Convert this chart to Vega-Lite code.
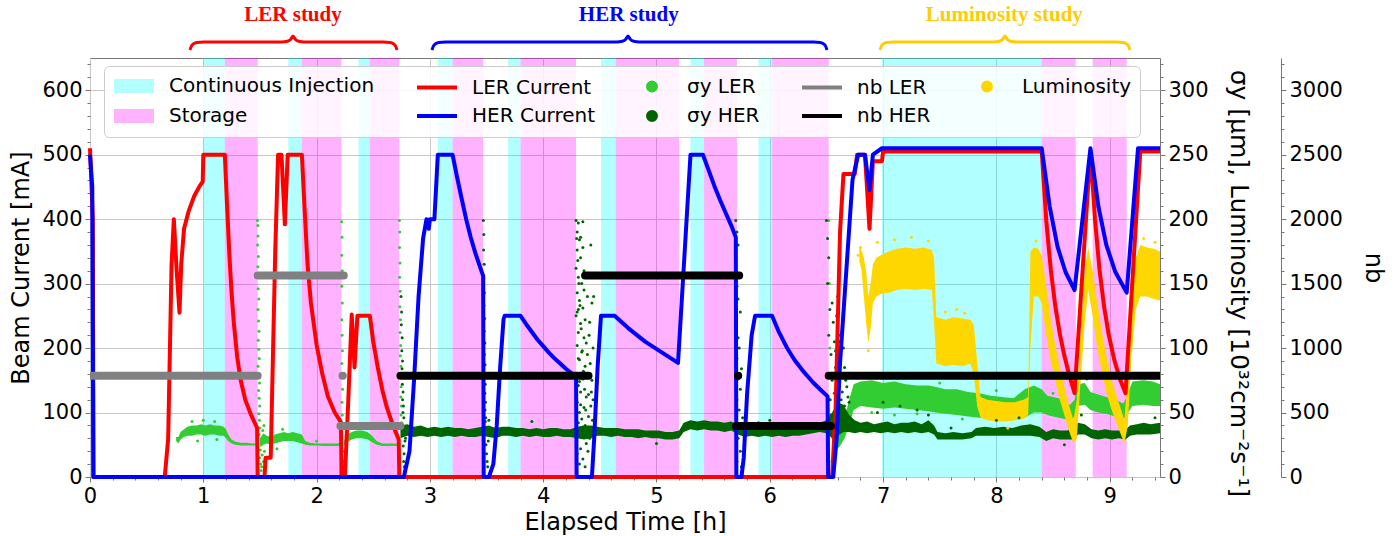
{
"$schema": "https://vega.github.io/schema/vega-lite/v6.json",
"width": 1070, "height": 419,
"autosize": {"type": "none"},
"padding": {"left": 90, "top": 58, "right": 240, "bottom": 59},
"background": "white",
"config": {
  "view": {"stroke": "#777", "strokeWidth": 1},
  "axis": {"labelFont": "DejaVu Sans", "labelFontSize": 21, "labelColor": "#000", "titleFont": "DejaVu Sans", "titleFontSize": 24, "titleFontWeight": "normal", "titleColor": "#000", "tickColor": "#777", "domainColor": "#777", "gridColor": "#c6c6c6", "gridWidth": 1, "labelOverlap": false, "labelFlush": false},
  "legend": {"labelFont": "DejaVu Sans", "labelFontSize": 20, "labelColor": "#000"}
},
"datasets": {
"bands": [
{"series":"Continuous Injection","start":1.00,"end":1.19},{"series":"Storage","start":1.19,"end":1.48},
{"series":"Continuous Injection","start":1.75,"end":1.87},{"series":"Storage","start":1.87,"end":2.22},
{"series":"Continuous Injection","start":2.37,"end":2.47},{"series":"Storage","start":2.47,"end":2.73},
{"series":"Continuous Injection","start":3.07,"end":3.20},{"series":"Storage","start":3.20,"end":3.47},
{"series":"Continuous Injection","start":3.69,"end":3.80},{"series":"Storage","start":3.80,"end":4.29},
{"series":"Continuous Injection","start":4.51,"end":4.64},{"series":"Storage","start":4.64,"end":5.20},
{"series":"Continuous Injection","start":5.30,"end":5.42},{"series":"Storage","start":5.42,"end":5.71},
{"series":"Continuous Injection","start":5.90,"end":6.02},{"series":"Storage","start":6.02,"end":6.52},
{"series":"Continuous Injection","start":6.99,"end":8.40},{"series":"Storage","start":8.40,"end":8.70},
{"series":"Storage","start":8.85,"end":9.15}
],
"cur": [
{"series":"LER Current","t":0,"v":510},{"series":"LER Current","t":0.025,"v":400},{"series":"LER Current","t":0.03,"v":0},{"series":"LER Current","t":0.66,"v":0},{"series":"LER Current","t":0.69,"v":60},{"series":"LER Current","t":0.72,"v":330},{"series":"LER Current","t":0.74,"v":400},{"series":"LER Current","t":0.765,"v":320},{"series":"LER Current","t":0.79,"v":255},{"series":"LER Current","t":0.805,"v":330},{"series":"LER Current","t":0.83,"v":385},{"series":"LER Current","t":0.87,"v":412},{"series":"LER Current","t":0.92,"v":436},{"series":"LER Current","t":0.97,"v":452},{"series":"LER Current","t":0.995,"v":458},{"series":"LER Current","t":1.0,"v":500},{"series":"LER Current","t":1.19,"v":500},{"series":"LER Current","t":1.21,"v":420},{"series":"LER Current","t":1.23,"v":345},{"series":"LER Current","t":1.25,"v":285},{"series":"LER Current","t":1.27,"v":238},{"series":"LER Current","t":1.30,"v":185},{"series":"LER Current","t":1.33,"v":150},{"series":"LER Current","t":1.37,"v":120},{"series":"LER Current","t":1.42,"v":97},{"series":"LER Current","t":1.475,"v":76},{"series":"LER Current","t":1.48,"v":0},{"series":"LER Current","t":1.54,"v":0},{"series":"LER Current","t":1.55,"v":30},{"series":"LER Current","t":1.595,"v":30},{"series":"LER Current","t":1.61,"v":150},{"series":"LER Current","t":1.635,"v":350},{"series":"LER Current","t":1.66,"v":500},{"series":"LER Current","t":1.69,"v":500},{"series":"LER Current","t":1.72,"v":392},{"series":"LER Current","t":1.745,"v":500},{"series":"LER Current","t":1.87,"v":500},{"series":"LER Current","t":1.89,"v":430},{"series":"LER Current","t":1.92,"v":330},{"series":"LER Current","t":1.95,"v":270},{"series":"LER Current","t":2.0,"v":205},{"series":"LER Current","t":2.05,"v":160},{"series":"LER Current","t":2.1,"v":125},{"series":"LER Current","t":2.16,"v":100},{"series":"LER Current","t":2.215,"v":85},{"series":"LER Current","t":2.22,"v":0},{"series":"LER Current","t":2.25,"v":0},{"series":"LER Current","t":2.28,"v":120},{"series":"LER Current","t":2.31,"v":252},{"series":"LER Current","t":2.335,"v":170},{"series":"LER Current","t":2.36,"v":250},{"series":"LER Current","t":2.47,"v":250},{"series":"LER Current","t":2.50,"v":210},{"series":"LER Current","t":2.54,"v":170},{"series":"LER Current","t":2.58,"v":135},{"series":"LER Current","t":2.62,"v":108},{"series":"LER Current","t":2.67,"v":82},{"series":"LER Current","t":2.725,"v":58},{"series":"LER Current","t":2.73,"v":0},{"series":"LER Current","t":6.55,"v":0},{"series":"LER Current","t":6.58,"v":100},{"series":"LER Current","t":6.62,"v":380},{"series":"LER Current","t":6.65,"v":470},{"series":"LER Current","t":6.75,"v":470},{"series":"LER Current","t":6.77,"v":500},{"series":"LER Current","t":6.84,"v":500},{"series":"LER Current","t":6.88,"v":385},{"series":"LER Current","t":6.91,"v":490},{"series":"LER Current","t":6.99,"v":490},{"series":"LER Current","t":7.0,"v":505},{"series":"LER Current","t":8.40,"v":505},{"series":"LER Current","t":8.44,"v":398},{"series":"LER Current","t":8.48,"v":322},{"series":"LER Current","t":8.52,"v":265},{"series":"LER Current","t":8.56,"v":222},{"series":"LER Current","t":8.60,"v":188},{"series":"LER Current","t":8.64,"v":160},{"series":"LER Current","t":8.69,"v":130},{"series":"LER Current","t":8.83,"v":505},{"series":"LER Current","t":8.87,"v":400},{"series":"LER Current","t":8.91,"v":322},{"series":"LER Current","t":8.95,"v":265},{"series":"LER Current","t":8.99,"v":222},{"series":"LER Current","t":9.04,"v":182},{"series":"LER Current","t":9.09,"v":152},{"series":"LER Current","t":9.14,"v":130},{"series":"LER Current","t":9.27,"v":505},{"series":"LER Current","t":9.444,"v":505},
{"series":"HER Current","t":0,"v":500},{"series":"HER Current","t":0.02,"v":450},{"series":"HER Current","t":0.03,"v":0},{"series":"HER Current","t":2.77,"v":0},{"series":"HER Current","t":2.82,"v":40},{"series":"HER Current","t":2.86,"v":150},{"series":"HER Current","t":2.90,"v":280},{"series":"HER Current","t":2.94,"v":370},{"series":"HER Current","t":2.97,"v":400},{"series":"HER Current","t":2.99,"v":385},{"series":"HER Current","t":3.0,"v":400},{"series":"HER Current","t":3.04,"v":400},{"series":"HER Current","t":3.07,"v":500},{"series":"HER Current","t":3.20,"v":500},{"series":"HER Current","t":3.24,"v":465},{"series":"HER Current","t":3.28,"v":432},{"series":"HER Current","t":3.32,"v":400},{"series":"HER Current","t":3.36,"v":372},{"series":"HER Current","t":3.40,"v":348},{"series":"HER Current","t":3.44,"v":327},{"series":"HER Current","t":3.47,"v":312},{"series":"HER Current","t":3.475,"v":0},{"series":"HER Current","t":3.52,"v":0},{"series":"HER Current","t":3.56,"v":20},{"series":"HER Current","t":3.59,"v":80},{"series":"HER Current","t":3.62,"v":170},{"series":"HER Current","t":3.65,"v":245},{"series":"HER Current","t":3.66,"v":250},{"series":"HER Current","t":3.80,"v":250},{"series":"HER Current","t":3.85,"v":237},{"series":"HER Current","t":3.90,"v":225},{"series":"HER Current","t":3.95,"v":213},{"series":"HER Current","t":4.00,"v":203},{"series":"HER Current","t":4.05,"v":193},{"series":"HER Current","t":4.10,"v":184},{"series":"HER Current","t":4.15,"v":176},{"series":"HER Current","t":4.20,"v":168},{"series":"HER Current","t":4.25,"v":161},{"series":"HER Current","t":4.29,"v":156},{"series":"HER Current","t":4.295,"v":0},{"series":"HER Current","t":4.43,"v":0},{"series":"HER Current","t":4.45,"v":60},{"series":"HER Current","t":4.48,"v":170},{"series":"HER Current","t":4.51,"v":250},{"series":"HER Current","t":4.63,"v":250},{"series":"HER Current","t":4.75,"v":231},{"series":"HER Current","t":4.90,"v":210},{"series":"HER Current","t":5.05,"v":193},{"series":"HER Current","t":5.19,"v":177},{"series":"HER Current","t":5.30,"v":500},{"series":"HER Current","t":5.41,"v":500},{"series":"HER Current","t":5.46,"v":476},{"series":"HER Current","t":5.51,"v":452},{"series":"HER Current","t":5.56,"v":430},{"series":"HER Current","t":5.61,"v":410},{"series":"HER Current","t":5.66,"v":390},{"series":"HER Current","t":5.70,"v":372},{"series":"HER Current","t":5.705,"v":0},{"series":"HER Current","t":5.75,"v":0},{"series":"HER Current","t":5.77,"v":30},{"series":"HER Current","t":5.80,"v":130},{"series":"HER Current","t":5.84,"v":220},{"series":"HER Current","t":5.87,"v":250},{"series":"HER Current","t":6.02,"v":250},{"series":"HER Current","t":6.08,"v":225},{"series":"HER Current","t":6.15,"v":201},{"series":"HER Current","t":6.22,"v":181},{"series":"HER Current","t":6.30,"v":163},{"series":"HER Current","t":6.38,"v":147},{"series":"HER Current","t":6.45,"v":135},{"series":"HER Current","t":6.51,"v":125},{"series":"HER Current","t":6.515,"v":0},{"series":"HER Current","t":6.56,"v":0},{"series":"HER Current","t":6.59,"v":60},{"series":"HER Current","t":6.62,"v":177},{"series":"HER Current","t":6.68,"v":332},{"series":"HER Current","t":6.73,"v":461},{"series":"HER Current","t":6.78,"v":500},{"series":"HER Current","t":6.84,"v":500},{"series":"HER Current","t":6.88,"v":445},{"series":"HER Current","t":6.91,"v":500},{"series":"HER Current","t":6.99,"v":510},{"series":"HER Current","t":8.40,"v":510},{"series":"HER Current","t":8.47,"v":420},{"series":"HER Current","t":8.54,"v":357},{"series":"HER Current","t":8.61,"v":318},{"series":"HER Current","t":8.69,"v":290},{"series":"HER Current","t":8.83,"v":510},{"series":"HER Current","t":8.90,"v":420},{"series":"HER Current","t":8.97,"v":360},{"series":"HER Current","t":9.05,"v":318},{"series":"HER Current","t":9.15,"v":286},{"series":"HER Current","t":9.25,"v":510},{"series":"HER Current","t":9.444,"v":510}
],
"nbd": [
{"series":"nb LER","seg":"a","t":0,"v":785},{"series":"nb LER","seg":"a","t":1.48,"v":785},
{"series":"nb LER","seg":"b","t":1.48,"v":1562},{"series":"nb LER","seg":"b","t":2.24,"v":1562},
{"series":"nb LER","seg":"c","t":2.229,"v":785},{"series":"nb LER","seg":"c","t":2.231,"v":785},
{"series":"nb LER","seg":"d","t":2.21,"v":395},{"series":"nb LER","seg":"d","t":2.74,"v":395},
{"series":"nb HER","seg":"e","t":2.74,"v":785},{"series":"nb HER","seg":"e","t":4.40,"v":785},
{"series":"nb HER","seg":"f","t":4.37,"v":1562},{"series":"nb HER","seg":"f","t":5.73,"v":1562},
{"series":"nb HER","seg":"g","t":5.719,"v":785},{"series":"nb HER","seg":"g","t":5.721,"v":785},
{"series":"nb HER","seg":"h","t":5.70,"v":395},{"series":"nb HER","seg":"h","t":6.54,"v":395},
{"series":"nb HER","seg":"i","t":6.52,"v":785},{"series":"nb HER","seg":"i","t":9.444,"v":785}
],
"sig": [
{"series":"σy LER","seg":1,"t":0.76,"lo":28,"hi":31},{"series":"σy LER","seg":1,"t":0.78,"lo":26,"hi":31},{"series":"σy LER","seg":1,"t":0.80,"lo":29,"hi":35},{"series":"σy LER","seg":1,"t":0.83,"lo":31,"hi":37},{"series":"σy LER","seg":1,"t":0.86,"lo":32,"hi":39},{"series":"σy LER","seg":1,"t":0.90,"lo":32,"hi":40},{"series":"σy LER","seg":1,"t":0.94,"lo":33,"hi":40},{"series":"σy LER","seg":1,"t":0.98,"lo":33,"hi":41},{"series":"σy LER","seg":1,"t":1.02,"lo":32,"hi":40},{"series":"σy LER","seg":1,"t":1.06,"lo":33,"hi":41},{"series":"σy LER","seg":1,"t":1.10,"lo":33,"hi":40},{"series":"σy LER","seg":1,"t":1.14,"lo":32,"hi":40},{"series":"σy LER","seg":1,"t":1.18,"lo":32,"hi":39},{"series":"σy LER","seg":1,"t":1.20,"lo":30,"hi":37},{"series":"σy LER","seg":1,"t":1.22,"lo":28,"hi":33},{"series":"σy LER","seg":1,"t":1.25,"lo":26,"hi":29},{"series":"σy LER","seg":1,"t":1.28,"lo":25,"hi":27.5},{"series":"σy LER","seg":1,"t":1.33,"lo":24.5,"hi":26.5},{"series":"σy LER","seg":1,"t":1.38,"lo":24.5,"hi":26.5},{"series":"σy LER","seg":1,"t":1.43,"lo":24.5,"hi":26},{"series":"σy LER","seg":1,"t":1.475,"lo":24.5,"hi":26},
{"series":"σy LER","seg":2,"t":1.50,"lo":23,"hi":30},{"series":"σy LER","seg":2,"t":1.53,"lo":25,"hi":34},{"series":"σy LER","seg":2,"t":1.56,"lo":26,"hi":32},{"series":"σy LER","seg":2,"t":1.60,"lo":25,"hi":31},{"series":"σy LER","seg":2,"t":1.63,"lo":26,"hi":33},{"series":"σy LER","seg":2,"t":1.67,"lo":27,"hi":34},{"series":"σy LER","seg":2,"t":1.71,"lo":28,"hi":35},{"series":"σy LER","seg":2,"t":1.75,"lo":28,"hi":34},{"series":"σy LER","seg":2,"t":1.79,"lo":28,"hi":35},{"series":"σy LER","seg":2,"t":1.83,"lo":27,"hi":34},{"series":"σy LER","seg":2,"t":1.87,"lo":26,"hi":33},{"series":"σy LER","seg":2,"t":1.90,"lo":25,"hi":28},{"series":"σy LER","seg":2,"t":1.94,"lo":24.5,"hi":26.5},{"series":"σy LER","seg":2,"t":2.00,"lo":24.5,"hi":26},{"series":"σy LER","seg":2,"t":2.06,"lo":24,"hi":26},{"series":"σy LER","seg":2,"t":2.12,"lo":24,"hi":26},{"series":"σy LER","seg":2,"t":2.18,"lo":24,"hi":26},{"series":"σy LER","seg":2,"t":2.22,"lo":24,"hi":26.5},
{"series":"σy LER","seg":3,"t":2.24,"lo":24,"hi":28},{"series":"σy LER","seg":3,"t":2.27,"lo":27,"hi":33},{"series":"σy LER","seg":3,"t":2.31,"lo":29,"hi":35},{"series":"σy LER","seg":3,"t":2.35,"lo":30,"hi":36},{"series":"σy LER","seg":3,"t":2.40,"lo":30,"hi":36},{"series":"σy LER","seg":3,"t":2.45,"lo":29,"hi":35},{"series":"σy LER","seg":3,"t":2.49,"lo":27,"hi":32},{"series":"σy LER","seg":3,"t":2.53,"lo":25,"hi":28},{"series":"σy LER","seg":3,"t":2.58,"lo":24,"hi":26},{"series":"σy LER","seg":3,"t":2.65,"lo":24,"hi":26},{"series":"σy LER","seg":3,"t":2.73,"lo":24,"hi":26},
{"series":"σy LER","seg":4,"t":6.55,"lo":18,"hi":26},{"series":"σy LER","seg":4,"t":6.58,"lo":20,"hi":30},{"series":"σy LER","seg":4,"t":6.62,"lo":24,"hi":36},{"series":"σy LER","seg":4,"t":6.66,"lo":30,"hi":45},{"series":"σy LER","seg":4,"t":6.70,"lo":40,"hi":60},{"series":"σy LER","seg":4,"t":6.74,"lo":52,"hi":72},{"series":"σy LER","seg":4,"t":6.80,"lo":55,"hi":74},{"series":"σy LER","seg":4,"t":6.90,"lo":54,"hi":75},{"series":"σy LER","seg":4,"t":7.00,"lo":53,"hi":73},{"series":"σy LER","seg":4,"t":7.10,"lo":54,"hi":74},{"series":"σy LER","seg":4,"t":7.20,"lo":53,"hi":72},{"series":"σy LER","seg":4,"t":7.30,"lo":52,"hi":71},{"series":"σy LER","seg":4,"t":7.40,"lo":51,"hi":71},{"series":"σy LER","seg":4,"t":7.46,"lo":50,"hi":70},{"series":"σy LER","seg":4,"t":7.55,"lo":49,"hi":68},{"series":"σy LER","seg":4,"t":7.65,"lo":48,"hi":68},{"series":"σy LER","seg":4,"t":7.75,"lo":47,"hi":66},{"series":"σy LER","seg":4,"t":7.85,"lo":46,"hi":65},{"series":"σy LER","seg":4,"t":7.95,"lo":45,"hi":63},{"series":"σy LER","seg":4,"t":8.05,"lo":44,"hi":62},{"series":"σy LER","seg":4,"t":8.15,"lo":44,"hi":61},{"series":"σy LER","seg":4,"t":8.25,"lo":46,"hi":68},{"series":"σy LER","seg":4,"t":8.33,"lo":50,"hi":71},{"series":"σy LER","seg":4,"t":8.40,"lo":50,"hi":68},{"series":"σy LER","seg":4,"t":8.45,"lo":48,"hi":63},{"series":"σy LER","seg":4,"t":8.50,"lo":47,"hi":62},{"series":"σy LER","seg":4,"t":8.55,"lo":46,"hi":61},{"series":"σy LER","seg":4,"t":8.60,"lo":45,"hi":58},{"series":"σy LER","seg":4,"t":8.65,"lo":44,"hi":56},{"series":"σy LER","seg":4,"t":8.69,"lo":47,"hi":60},{"series":"σy LER","seg":4,"t":8.72,"lo":55,"hi":72},{"series":"σy LER","seg":4,"t":8.78,"lo":56,"hi":73},{"series":"σy LER","seg":4,"t":8.83,"lo":52,"hi":66},{"series":"σy LER","seg":4,"t":8.90,"lo":50,"hi":64},{"series":"σy LER","seg":4,"t":8.97,"lo":49,"hi":62},{"series":"σy LER","seg":4,"t":9.05,"lo":47,"hi":60},{"series":"σy LER","seg":4,"t":9.12,"lo":45,"hi":57},{"series":"σy LER","seg":4,"t":9.15,"lo":48,"hi":62},{"series":"σy LER","seg":4,"t":9.20,"lo":55,"hi":74},{"series":"σy LER","seg":4,"t":9.30,"lo":56,"hi":75},{"series":"σy LER","seg":4,"t":9.38,"lo":55,"hi":74},{"series":"σy LER","seg":4,"t":9.444,"lo":55,"hi":72},
{"series":"σy HER","seg":1,"t":2.74,"lo":30,"hi":40},{"series":"σy HER","seg":1,"t":2.80,"lo":32,"hi":41},{"series":"σy HER","seg":1,"t":2.86,"lo":31,"hi":39},{"series":"σy HER","seg":1,"t":2.92,"lo":32,"hi":40},{"series":"σy HER","seg":1,"t":2.98,"lo":31,"hi":38},{"series":"σy HER","seg":1,"t":3.04,"lo":32,"hi":39},{"series":"σy HER","seg":1,"t":3.10,"lo":31,"hi":38},{"series":"σy HER","seg":1,"t":3.16,"lo":32,"hi":39},{"series":"σy HER","seg":1,"t":3.22,"lo":31,"hi":38},{"series":"σy HER","seg":1,"t":3.28,"lo":32,"hi":38},{"series":"σy HER","seg":1,"t":3.34,"lo":31,"hi":37},{"series":"σy HER","seg":1,"t":3.40,"lo":31,"hi":38},{"series":"σy HER","seg":1,"t":3.46,"lo":32,"hi":39},{"series":"σy HER","seg":1,"t":3.52,"lo":31,"hi":40},{"series":"σy HER","seg":1,"t":3.58,"lo":30,"hi":38},{"series":"σy HER","seg":1,"t":3.64,"lo":32,"hi":39},{"series":"σy HER","seg":1,"t":3.70,"lo":32,"hi":39},{"series":"σy HER","seg":1,"t":3.76,"lo":31,"hi":38},{"series":"σy HER","seg":1,"t":3.82,"lo":32,"hi":38},{"series":"σy HER","seg":1,"t":3.88,"lo":31,"hi":37},{"series":"σy HER","seg":1,"t":3.94,"lo":32,"hi":38},{"series":"σy HER","seg":1,"t":4.00,"lo":31,"hi":37},{"series":"σy HER","seg":1,"t":4.06,"lo":31,"hi":38},{"series":"σy HER","seg":1,"t":4.12,"lo":32,"hi":38},{"series":"σy HER","seg":1,"t":4.18,"lo":31,"hi":37},{"series":"σy HER","seg":1,"t":4.24,"lo":31,"hi":37},{"series":"σy HER","seg":1,"t":4.30,"lo":30,"hi":39},{"series":"σy HER","seg":1,"t":4.36,"lo":29,"hi":40},{"series":"σy HER","seg":1,"t":4.42,"lo":30,"hi":40},{"series":"σy HER","seg":1,"t":4.48,"lo":32,"hi":39},{"series":"σy HER","seg":1,"t":4.54,"lo":32,"hi":38},{"series":"σy HER","seg":1,"t":4.60,"lo":31,"hi":38},{"series":"σy HER","seg":1,"t":4.66,"lo":32,"hi":38},{"series":"σy HER","seg":1,"t":4.72,"lo":31,"hi":37},{"series":"σy HER","seg":1,"t":4.78,"lo":31,"hi":37},{"series":"σy HER","seg":1,"t":4.84,"lo":30,"hi":37},{"series":"σy HER","seg":1,"t":4.90,"lo":31,"hi":36},{"series":"σy HER","seg":1,"t":4.96,"lo":30,"hi":36},{"series":"σy HER","seg":1,"t":5.02,"lo":30,"hi":36},{"series":"σy HER","seg":1,"t":5.08,"lo":29,"hi":35},{"series":"σy HER","seg":1,"t":5.14,"lo":29,"hi":35},{"series":"σy HER","seg":1,"t":5.20,"lo":30,"hi":36},{"series":"σy HER","seg":1,"t":5.24,"lo":35,"hi":42},{"series":"σy HER","seg":1,"t":5.30,"lo":37,"hi":44},{"series":"σy HER","seg":1,"t":5.36,"lo":36,"hi":43},{"series":"σy HER","seg":1,"t":5.42,"lo":37,"hi":44},{"series":"σy HER","seg":1,"t":5.48,"lo":36,"hi":43},{"series":"σy HER","seg":1,"t":5.54,"lo":36,"hi":43},{"series":"σy HER","seg":1,"t":5.60,"lo":35,"hi":42},{"series":"σy HER","seg":1,"t":5.66,"lo":36,"hi":43},{"series":"σy HER","seg":1,"t":5.72,"lo":33,"hi":40},{"series":"σy HER","seg":1,"t":5.78,"lo":31,"hi":38},{"series":"σy HER","seg":1,"t":5.84,"lo":32,"hi":38},{"series":"σy HER","seg":1,"t":5.90,"lo":31,"hi":37},{"series":"σy HER","seg":1,"t":5.96,"lo":32,"hi":38},{"series":"σy HER","seg":1,"t":6.02,"lo":31,"hi":37},{"series":"σy HER","seg":1,"t":6.08,"lo":32,"hi":38},{"series":"σy HER","seg":1,"t":6.14,"lo":31,"hi":38},{"series":"σy HER","seg":1,"t":6.20,"lo":32,"hi":38},{"series":"σy HER","seg":1,"t":6.26,"lo":32,"hi":39},{"series":"σy HER","seg":1,"t":6.32,"lo":33,"hi":40},{"series":"σy HER","seg":1,"t":6.38,"lo":34,"hi":41},{"series":"σy HER","seg":1,"t":6.44,"lo":35,"hi":42},{"series":"σy HER","seg":1,"t":6.50,"lo":34,"hi":44},{"series":"σy HER","seg":1,"t":6.55,"lo":30,"hi":50},{"series":"σy HER","seg":1,"t":6.60,"lo":32,"hi":58},{"series":"σy HER","seg":1,"t":6.65,"lo":35,"hi":56},{"series":"σy HER","seg":1,"t":6.70,"lo":35,"hi":48},{"series":"σy HER","seg":1,"t":6.75,"lo":34,"hi":44},{"series":"σy HER","seg":1,"t":6.80,"lo":35,"hi":42},{"series":"σy HER","seg":1,"t":6.86,"lo":34,"hi":43},{"series":"σy HER","seg":1,"t":6.92,"lo":35,"hi":41},{"series":"σy HER","seg":1,"t":6.98,"lo":34,"hi":42},{"series":"σy HER","seg":1,"t":7.04,"lo":35,"hi":43},{"series":"σy HER","seg":1,"t":7.10,"lo":34,"hi":41},{"series":"σy HER","seg":1,"t":7.16,"lo":35,"hi":42},{"series":"σy HER","seg":1,"t":7.22,"lo":34,"hi":42},{"series":"σy HER","seg":1,"t":7.28,"lo":35,"hi":43},{"series":"σy HER","seg":1,"t":7.34,"lo":34,"hi":41},{"series":"σy HER","seg":1,"t":7.40,"lo":35,"hi":44},{"series":"σy HER","seg":1,"t":7.45,"lo":33,"hi":40},{"series":"σy HER","seg":1,"t":7.48,"lo":29,"hi":35},{"series":"σy HER","seg":1,"t":7.55,"lo":29,"hi":34},{"series":"σy HER","seg":1,"t":7.62,"lo":29,"hi":35},{"series":"σy HER","seg":1,"t":7.70,"lo":29,"hi":34},{"series":"σy HER","seg":1,"t":7.78,"lo":30,"hi":35},{"series":"σy HER","seg":1,"t":7.82,"lo":32,"hi":38},{"series":"σy HER","seg":1,"t":7.90,"lo":32,"hi":39},{"series":"σy HER","seg":1,"t":7.98,"lo":32,"hi":38},{"series":"σy HER","seg":1,"t":8.06,"lo":32,"hi":39},{"series":"σy HER","seg":1,"t":8.14,"lo":32,"hi":38},{"series":"σy HER","seg":1,"t":8.22,"lo":32,"hi":40},{"series":"σy HER","seg":1,"t":8.30,"lo":32,"hi":41},{"series":"σy HER","seg":1,"t":8.38,"lo":31,"hi":39},{"series":"σy HER","seg":1,"t":8.44,"lo":28,"hi":35},{"series":"σy HER","seg":1,"t":8.50,"lo":30,"hi":37},{"series":"σy HER","seg":1,"t":8.56,"lo":29,"hi":36},{"series":"σy HER","seg":1,"t":8.62,"lo":29,"hi":36},{"series":"σy HER","seg":1,"t":8.68,"lo":29,"hi":37},{"series":"σy HER","seg":1,"t":8.72,"lo":33,"hi":42},{"series":"σy HER","seg":1,"t":8.78,"lo":33,"hi":41},{"series":"σy HER","seg":1,"t":8.84,"lo":30,"hi":37},{"series":"σy HER","seg":1,"t":8.90,"lo":29,"hi":36},{"series":"σy HER","seg":1,"t":8.96,"lo":30,"hi":37},{"series":"σy HER","seg":1,"t":9.02,"lo":29,"hi":36},{"series":"σy HER","seg":1,"t":9.08,"lo":30,"hi":36},{"series":"σy HER","seg":1,"t":9.14,"lo":29,"hi":37},{"series":"σy HER","seg":1,"t":9.18,"lo":32,"hi":40},{"series":"σy HER","seg":1,"t":9.24,"lo":33,"hi":41},{"series":"σy HER","seg":1,"t":9.30,"lo":33,"hi":42},{"series":"σy HER","seg":1,"t":9.36,"lo":33,"hi":41},{"series":"σy HER","seg":1,"t":9.444,"lo":34,"hi":42},
{"series":"Luminosity","seg":1,"t":6.79,"lo":168,"hi":178},{"series":"Luminosity","seg":1,"t":6.81,"lo":160,"hi":176},{"series":"Luminosity","seg":1,"t":6.83,"lo":140,"hi":170},{"series":"Luminosity","seg":1,"t":6.85,"lo":120,"hi":160},{"series":"Luminosity","seg":1,"t":6.87,"lo":104,"hi":140},{"series":"Luminosity","seg":1,"t":6.89,"lo":115,"hi":150},{"series":"Luminosity","seg":1,"t":6.91,"lo":135,"hi":165},{"series":"Luminosity","seg":1,"t":6.94,"lo":140,"hi":170},{"series":"Luminosity","seg":1,"t":6.98,"lo":142,"hi":172},{"series":"Luminosity","seg":1,"t":7.05,"lo":143,"hi":175},{"series":"Luminosity","seg":1,"t":7.12,"lo":145,"hi":177},{"series":"Luminosity","seg":1,"t":7.20,"lo":146,"hi":178},{"series":"Luminosity","seg":1,"t":7.28,"lo":145,"hi":177},{"series":"Luminosity","seg":1,"t":7.36,"lo":146,"hi":178},{"series":"Luminosity","seg":1,"t":7.43,"lo":145,"hi":176},{"series":"Luminosity","seg":1,"t":7.45,"lo":120,"hi":170},{"series":"Luminosity","seg":1,"t":7.47,"lo":88,"hi":124},{"series":"Luminosity","seg":1,"t":7.55,"lo":86,"hi":122},{"series":"Luminosity","seg":1,"t":7.62,"lo":87,"hi":124},{"series":"Luminosity","seg":1,"t":7.70,"lo":86,"hi":123},{"series":"Luminosity","seg":1,"t":7.77,"lo":88,"hi":122},{"series":"Luminosity","seg":1,"t":7.80,"lo":80,"hi":118},{"series":"Luminosity","seg":1,"t":7.83,"lo":55,"hi":90},{"series":"Luminosity","seg":1,"t":7.86,"lo":46,"hi":62},{"series":"Luminosity","seg":1,"t":7.92,"lo":44,"hi":60},{"series":"Luminosity","seg":1,"t":8.00,"lo":43,"hi":59},{"series":"Luminosity","seg":1,"t":8.08,"lo":43,"hi":58},{"series":"Luminosity","seg":1,"t":8.16,"lo":44,"hi":58},{"series":"Luminosity","seg":1,"t":8.24,"lo":45,"hi":60},{"series":"Luminosity","seg":1,"t":8.28,"lo":48,"hi":62},{"series":"Luminosity","seg":1,"t":8.30,"lo":100,"hi":175},{"series":"Luminosity","seg":1,"t":8.33,"lo":140,"hi":178},{"series":"Luminosity","seg":1,"t":8.37,"lo":140,"hi":177},{"series":"Luminosity","seg":1,"t":8.40,"lo":135,"hi":172},{"series":"Luminosity","seg":1,"t":8.44,"lo":110,"hi":148},{"series":"Luminosity","seg":1,"t":8.48,"lo":90,"hi":122},{"series":"Luminosity","seg":1,"t":8.52,"lo":74,"hi":102},{"series":"Luminosity","seg":1,"t":8.56,"lo":60,"hi":85},{"series":"Luminosity","seg":1,"t":8.60,"lo":48,"hi":70},{"series":"Luminosity","seg":1,"t":8.64,"lo":36,"hi":56},{"series":"Luminosity","seg":1,"t":8.68,"lo":26,"hi":44},{"series":"Luminosity","seg":1,"t":8.71,"lo":30,"hi":60},{"series":"Luminosity","seg":1,"t":8.74,"lo":70,"hi":110},{"series":"Luminosity","seg":1,"t":8.78,"lo":120,"hi":160},{"series":"Luminosity","seg":1,"t":8.81,"lo":145,"hi":178},{"series":"Luminosity","seg":1,"t":8.85,"lo":125,"hi":160},{"series":"Luminosity","seg":1,"t":8.89,"lo":100,"hi":135},{"series":"Luminosity","seg":1,"t":8.93,"lo":82,"hi":113},{"series":"Luminosity","seg":1,"t":8.97,"lo":66,"hi":94},{"series":"Luminosity","seg":1,"t":9.01,"lo":54,"hi":78},{"series":"Luminosity","seg":1,"t":9.05,"lo":44,"hi":66},{"series":"Luminosity","seg":1,"t":9.09,"lo":35,"hi":55},{"series":"Luminosity","seg":1,"t":9.13,"lo":26,"hi":44},{"series":"Luminosity","seg":1,"t":9.16,"lo":40,"hi":80},{"series":"Luminosity","seg":1,"t":9.19,"lo":90,"hi":140},{"series":"Luminosity","seg":1,"t":9.23,"lo":130,"hi":170},{"series":"Luminosity","seg":1,"t":9.27,"lo":140,"hi":180},{"series":"Luminosity","seg":1,"t":9.33,"lo":140,"hi":178},{"series":"Luminosity","seg":1,"t":9.39,"lo":138,"hi":177},{"series":"Luminosity","seg":1,"t":9.444,"lo":137,"hi":175}
],
"pts": [
{"series":"σy LER","t":1.478,"v":199},{"series":"σy LER","t":1.481,"v":195},{"series":"σy LER","t":1.483,"v":187},{"series":"σy LER","t":1.479,"v":180},{"series":"σy LER","t":1.486,"v":171},{"series":"σy LER","t":1.481,"v":163},{"series":"σy LER","t":1.488,"v":155},{"series":"σy LER","t":1.484,"v":146},{"series":"σy LER","t":1.49,"v":138},{"series":"σy LER","t":1.482,"v":130},{"series":"σy LER","t":1.487,"v":121},{"series":"σy LER","t":1.492,"v":113},{"series":"σy LER","t":1.485,"v":106},{"series":"σy LER","t":1.489,"v":99},{"series":"σy LER","t":1.494,"v":92},{"series":"σy LER","t":1.483,"v":86},{"series":"σy LER","t":1.491,"v":80},{"series":"σy LER","t":1.496,"v":73},{"series":"σy LER","t":1.488,"v":67},{"series":"σy LER","t":1.493,"v":61},{"series":"σy LER","t":1.498,"v":55},{"series":"σy LER","t":1.49,"v":49},{"series":"σy LER","t":1.495,"v":44},{"series":"σy LER","t":1.5,"v":38},{"series":"σy LER","t":1.492,"v":33},{"series":"σy LER","t":1.503,"v":21},{"series":"σy LER","t":1.497,"v":15},{"series":"σy LER","t":1.506,"v":10},{"series":"σy LER","t":1.51,"v":5},{"series":"σy LER","t":1.52,"v":17},{"series":"σy LER","t":1.53,"v":12},{"series":"σy LER","t":1.54,"v":20},{"series":"σy LER","t":1.515,"v":8},{"series":"σy LER","t":1.525,"v":36},{"series":"σy LER","t":1.535,"v":40},
{"series":"σy LER","t":2.221,"v":198},{"series":"σy LER","t":2.224,"v":186},{"series":"σy LER","t":2.222,"v":172},{"series":"σy LER","t":2.226,"v":160},{"series":"σy LER","t":2.223,"v":148},{"series":"σy LER","t":2.227,"v":135},{"series":"σy LER","t":2.222,"v":122},{"series":"σy LER","t":2.225,"v":110},{"series":"σy LER","t":2.228,"v":98},{"series":"σy LER","t":2.223,"v":88},{"series":"σy LER","t":2.226,"v":78},{"series":"σy LER","t":2.229,"v":68},{"series":"σy LER","t":2.224,"v":58},{"series":"σy LER","t":2.227,"v":48},{"series":"σy LER","t":2.23,"v":38},{"series":"σy LER","t":2.232,"v":20},{"series":"σy LER","t":2.235,"v":12},{"series":"σy LER","t":2.24,"v":6},
{"series":"σy LER","t":2.731,"v":199},{"series":"σy LER","t":2.734,"v":190},{"series":"σy LER","t":2.732,"v":178},{"series":"σy LER","t":2.736,"v":166},{"series":"σy LER","t":2.733,"v":155},{"series":"σy LER","t":2.738,"v":144},{"series":"σy LER","t":2.735,"v":132},{"series":"σy LER","t":2.74,"v":122},{"series":"σy LER","t":2.737,"v":112},{"series":"σy LER","t":2.742,"v":102},{"series":"σy LER","t":2.739,"v":94},{"series":"σy LER","t":2.744,"v":86},{"series":"σy LER","t":2.741,"v":78},{"series":"σy LER","t":2.746,"v":70},{"series":"σy LER","t":2.743,"v":62},{"series":"σy LER","t":2.748,"v":55},{"series":"σy LER","t":2.745,"v":48},{"series":"σy LER","t":2.75,"v":42},
{"series":"σy LER","t":6.52,"v":199},{"series":"σy LER","t":6.525,"v":150},{"series":"σy LER","t":6.53,"v":100},{"series":"σy LER","t":6.535,"v":60},{"series":"σy LER","t":6.54,"v":40},{"series":"σy LER","t":6.56,"v":30},
{"series":"σy LER","t":0.9,"v":43},{"series":"σy LER","t":1.0,"v":44},{"series":"σy LER","t":1.1,"v":43},{"series":"σy LER","t":0.95,"v":28},{"series":"σy LER","t":1.12,"v":29},{"series":"σy LER","t":1.6,"v":38},{"series":"σy LER","t":1.7,"v":37},{"series":"σy LER","t":1.65,"v":22},{"series":"σy LER","t":2.0,"v":28},{"series":"σy LER","t":2.3,"v":38},{"series":"σy LER","t":7.0,"v":77},{"series":"σy LER","t":7.2,"v":78},{"series":"σy LER","t":7.5,"v":73},{"series":"σy LER","t":8.0,"v":67},{"series":"σy LER","t":8.5,"v":65},{"series":"σy LER","t":9.3,"v":78},{"series":"σy LER","t":6.9,"v":50},{"series":"σy LER","t":7.1,"v":48},{"series":"σy LER","t":7.3,"v":49},{"series":"σy LER","t":7.7,"v":45},{"series":"σy LER","t":8.8,"v":76},{"series":"σy LER","t":9.4,"v":77},
{"series":"σy HER","t":2.745,"v":140},{"series":"σy HER","t":2.75,"v":128},{"series":"σy HER","t":2.748,"v":118},{"series":"σy HER","t":2.755,"v":108},{"series":"σy HER","t":2.752,"v":98},{"series":"σy HER","t":2.758,"v":90},{"series":"σy HER","t":2.754,"v":84},{"series":"σy HER","t":2.76,"v":78},{"series":"σy HER","t":2.757,"v":72},{"series":"σy HER","t":2.763,"v":66},{"series":"σy HER","t":2.759,"v":60},{"series":"σy HER","t":2.766,"v":55},{"series":"σy HER","t":2.762,"v":50},{"series":"σy HER","t":2.77,"v":46},{"series":"σy HER","t":2.765,"v":24},{"series":"σy HER","t":2.772,"v":18},{"series":"σy HER","t":2.768,"v":12},{"series":"σy HER","t":2.775,"v":8},{"series":"σy HER","t":2.78,"v":28},{"series":"σy HER","t":2.785,"v":30},
{"series":"σy HER","t":3.472,"v":199},{"series":"σy HER","t":3.476,"v":188},{"series":"σy HER","t":3.474,"v":176},{"series":"σy HER","t":3.479,"v":165},{"series":"σy HER","t":3.475,"v":154},{"series":"σy HER","t":3.481,"v":143},{"series":"σy HER","t":3.477,"v":133},{"series":"σy HER","t":3.483,"v":123},{"series":"σy HER","t":3.479,"v":113},{"series":"σy HER","t":3.485,"v":104},{"series":"σy HER","t":3.481,"v":95},{"series":"σy HER","t":3.487,"v":87},{"series":"σy HER","t":3.483,"v":80},{"series":"σy HER","t":3.489,"v":72},{"series":"σy HER","t":3.485,"v":65},{"series":"σy HER","t":3.491,"v":58},{"series":"σy HER","t":3.487,"v":52},{"series":"σy HER","t":3.493,"v":46},{"series":"σy HER","t":3.489,"v":43},{"series":"σy HER","t":3.495,"v":25},{"series":"σy HER","t":3.5,"v":18},{"series":"σy HER","t":3.505,"v":12},{"series":"σy HER","t":3.51,"v":8},{"series":"σy HER","t":3.515,"v":28},{"series":"σy HER","t":3.52,"v":44},
{"series":"σy HER","t":4.29,"v":199},{"series":"σy HER","t":4.30,"v":190},{"series":"σy HER","t":4.31,"v":197},{"series":"σy HER","t":4.32,"v":184},{"series":"σy HER","t":4.30,"v":176},{"series":"σy HER","t":4.33,"v":170},{"series":"σy HER","t":4.29,"v":162},{"series":"σy HER","t":4.31,"v":155},{"series":"σy HER","t":4.34,"v":150},{"series":"σy HER","t":4.30,"v":143},{"series":"σy HER","t":4.32,"v":137},{"series":"σy HER","t":4.35,"v":131},{"series":"σy HER","t":4.29,"v":125},{"series":"σy HER","t":4.33,"v":119},{"series":"σy HER","t":4.31,"v":112},{"series":"σy HER","t":4.36,"v":108},{"series":"σy HER","t":4.30,"v":102},{"series":"σy HER","t":4.34,"v":97},{"series":"σy HER","t":4.32,"v":91},{"series":"σy HER","t":4.37,"v":86},{"series":"σy HER","t":4.29,"v":80},{"series":"σy HER","t":4.35,"v":76},{"series":"σy HER","t":4.31,"v":71},{"series":"σy HER","t":4.33,"v":66},{"series":"σy HER","t":4.38,"v":62},{"series":"σy HER","t":4.30,"v":58},{"series":"σy HER","t":4.36,"v":54},{"series":"σy HER","t":4.32,"v":50},{"series":"σy HER","t":4.40,"v":47},{"series":"σy HER","t":4.34,"v":45},{"series":"σy HER","t":4.31,"v":42},{"series":"σy HER","t":4.38,"v":26},{"series":"σy HER","t":4.33,"v":22},{"series":"σy HER","t":4.30,"v":18},{"series":"σy HER","t":4.35,"v":14},{"series":"σy HER","t":4.32,"v":10},{"series":"σy HER","t":4.37,"v":8},{"series":"σy HER","t":4.41,"v":30},{"series":"σy HER","t":4.39,"v":95},{"series":"σy HER","t":4.36,"v":160},{"series":"σy HER","t":4.41,"v":120},{"series":"σy HER","t":4.43,"v":75},{"series":"σy HER","t":4.42,"v":55},{"series":"σy HER","t":4.44,"v":100},{"series":"σy HER","t":4.39,"v":140},{"series":"σy HER","t":4.33,"v":186},{"series":"σy HER","t":4.35,"v":198},{"series":"σy HER","t":4.31,"v":130},{"series":"σy HER","t":4.37,"v":40},{"series":"σy HER","t":4.40,"v":64},
{"series":"σy HER","t":4.295,"v":185},{"series":"σy HER","t":4.305,"v":168},{"series":"σy HER","t":4.315,"v":150},{"series":"σy HER","t":4.325,"v":133},{"series":"σy HER","t":4.335,"v":115},{"series":"σy HER","t":4.345,"v":98},{"series":"σy HER","t":4.355,"v":82},{"series":"σy HER","t":4.365,"v":68},{"series":"σy HER","t":4.375,"v":52},{"series":"σy HER","t":4.385,"v":36},{"series":"σy HER","t":4.395,"v":20},{"series":"σy HER","t":4.405,"v":110},{"series":"σy HER","t":4.415,"v":88},{"series":"σy HER","t":4.425,"v":66},{"series":"σy HER","t":4.435,"v":44},{"series":"σy HER","t":4.445,"v":140},{"series":"σy HER","t":4.30,"v":128},{"series":"σy HER","t":4.31,"v":92},{"series":"σy HER","t":4.32,"v":74},{"series":"σy HER","t":4.33,"v":56},{"series":"σy HER","t":4.34,"v":38},{"series":"σy HER","t":4.35,"v":178},{"series":"σy HER","t":4.36,"v":145},{"series":"σy HER","t":4.37,"v":122},{"series":"σy HER","t":4.38,"v":104},{"series":"σy HER","t":4.39,"v":78},{"series":"σy HER","t":4.40,"v":158},{"series":"σy HER","t":4.42,"v":180},{"series":"σy HER","t":4.43,"v":135},{"series":"σy HER","t":4.44,"v":60},
{"series":"σy HER","t":5.70,"v":199},{"series":"σy HER","t":5.71,"v":190},{"series":"σy HER","t":5.72,"v":180},{"series":"σy HER","t":5.70,"v":168},{"series":"σy HER","t":5.73,"v":158},{"series":"σy HER","t":5.71,"v":148},{"series":"σy HER","t":5.72,"v":138},{"series":"σy HER","t":5.74,"v":128},{"series":"σy HER","t":5.70,"v":118},{"series":"σy HER","t":5.72,"v":108},{"series":"σy HER","t":5.73,"v":100},{"series":"σy HER","t":5.71,"v":92},{"series":"σy HER","t":5.75,"v":84},{"series":"σy HER","t":5.72,"v":76},{"series":"σy HER","t":5.74,"v":68},{"series":"σy HER","t":5.71,"v":60},{"series":"σy HER","t":5.73,"v":52},{"series":"σy HER","t":5.76,"v":46},{"series":"σy HER","t":5.72,"v":30},{"series":"σy HER","t":5.74,"v":20},{"series":"σy HER","t":5.71,"v":12},{"series":"σy HER","t":5.75,"v":8},
{"series":"σy HER","t":6.50,"v":199},{"series":"σy HER","t":6.51,"v":185},{"series":"σy HER","t":6.52,"v":170},{"series":"σy HER","t":6.51,"v":150},{"series":"σy HER","t":6.53,"v":130},{"series":"σy HER","t":6.52,"v":110},{"series":"σy HER","t":6.54,"v":95},{"series":"σy HER","t":6.55,"v":135},{"series":"σy HER","t":6.56,"v":120},{"series":"σy HER","t":6.57,"v":105},{"series":"σy HER","t":6.58,"v":98},{"series":"σy HER","t":6.59,"v":125},{"series":"σy HER","t":6.60,"v":140},{"series":"σy HER","t":6.61,"v":110},{"series":"σy HER","t":6.62,"v":90},{"series":"σy HER","t":6.63,"v":80},{"series":"σy HER","t":6.64,"v":118},{"series":"σy HER","t":6.65,"v":100},{"series":"σy HER","t":6.66,"v":85},{"series":"σy HER","t":6.67,"v":75},{"series":"σy HER","t":6.68,"v":70},{"series":"σy HER","t":6.69,"v":62},{"series":"σy HER","t":6.70,"v":58},{"series":"σy HER","t":6.55,"v":75},{"series":"σy HER","t":6.57,"v":65},{"series":"σy HER","t":6.59,"v":55},{"series":"σy HER","t":6.61,"v":70},{"series":"σy HER","t":6.63,"v":60},{"series":"σy HER","t":6.53,"v":60},{"series":"σy HER","t":6.54,"v":48},{"series":"σy HER","t":6.56,"v":40},{"series":"σy HER","t":6.58,"v":85},{"series":"σy HER","t":6.60,"v":95},{"series":"σy HER","t":6.62,"v":105},{"series":"σy HER","t":6.64,"v":66},{"series":"σy HER","t":6.66,"v":55},{"series":"σy HER","t":6.52,"v":35},{"series":"σy HER","t":6.57,"v":20},{"series":"σy HER","t":6.55,"v":12},
{"series":"σy HER","t":7.0,"v":58},{"series":"σy HER","t":7.15,"v":55},{"series":"σy HER","t":7.3,"v":52},{"series":"σy HER","t":6.95,"v":50},{"series":"σy HER","t":7.4,"v":48},{"series":"σy HER","t":8.2,"v":46},{"series":"σy HER","t":8.75,"v":48},{"series":"σy HER","t":9.4,"v":46},{"series":"σy HER","t":3.9,"v":43},{"series":"σy HER","t":5.0,"v":26},{"series":"σy HER","t":5.9,"v":42},{"series":"σy HER","t":6.0,"v":44},{"series":"σy HER","t":8.6,"v":25},{"series":"σy HER","t":7.6,"v":38},{"series":"σy HER","t":8.0,"v":44},
{"series":"Luminosity","t":6.95,"v":182},{"series":"Luminosity","t":7.1,"v":184},{"series":"Luminosity","t":7.25,"v":186},{"series":"Luminosity","t":7.4,"v":183},{"series":"Luminosity","t":7.55,"v":128},{"series":"Luminosity","t":7.65,"v":130},{"series":"Luminosity","t":7.72,"v":127},{"series":"Luminosity","t":8.35,"v":183},{"series":"Luminosity","t":9.3,"v":185},{"series":"Luminosity","t":9.4,"v":182},{"series":"Luminosity","t":6.80,"v":178},{"series":"Luminosity","t":6.78,"v":172},{"series":"Luminosity","t":6.87,"v":98},{"series":"Luminosity","t":7.6,"v":80},{"series":"Luminosity","t":8.1,"v":38}
],
"brace": [
{"brace":"LER","t":0.8826,"v":662.4},{"brace":"LER","t":0.8914,"v":667.1},{"brace":"LER","t":0.9091,"v":671.5},{"brace":"LER","t":0.9426,"v":674.0},{"brace":"LER","t":1.0026,"v":674.8},{"brace":"LER","t":1.6917,"v":674.8},{"brace":"LER","t":1.7417,"v":676.0},{"brace":"LER","t":1.7717,"v":679.0},{"brace":"LER","t":1.7917,"v":684.1},{"brace":"LER","t":1.8117,"v":679.0},{"brace":"LER","t":1.8417,"v":676.0},{"brace":"LER","t":1.8917,"v":674.8},{"brace":"LER","t":2.5896,"v":674.8},{"brace":"LER","t":2.6496,"v":674.0},{"brace":"LER","t":2.6831,"v":671.5},{"brace":"LER","t":2.7008,"v":667.1},{"brace":"LER","t":2.7096,"v":662.4},
{"brace":"HER","t":3.0185,"v":662.4},{"brace":"HER","t":3.0273,"v":667.1},{"brace":"HER","t":3.045,"v":671.5},{"brace":"HER","t":3.0785,"v":674.0},{"brace":"HER","t":3.1385,"v":674.8},{"brace":"HER","t":4.6485,"v":674.8},{"brace":"HER","t":4.6985,"v":676.0},{"brace":"HER","t":4.7285,"v":679.0},{"brace":"HER","t":4.7485,"v":684.1},{"brace":"HER","t":4.7685,"v":679.0},{"brace":"HER","t":4.7985,"v":676.0},{"brace":"HER","t":4.8485,"v":674.8},{"brace":"HER","t":6.3849,"v":674.8},{"brace":"HER","t":6.4449,"v":674.0},{"brace":"HER","t":6.4784,"v":671.5},{"brace":"HER","t":6.4961,"v":667.1},{"brace":"HER","t":6.5049,"v":662.4},
{"brace":"Lumi","t":6.9726,"v":662.4},{"brace":"Lumi","t":6.9814,"v":667.1},{"brace":"Lumi","t":6.9991,"v":671.5},{"brace":"Lumi","t":7.0326,"v":674.0},{"brace":"Lumi","t":7.0926,"v":674.8},{"brace":"Lumi","t":7.9759,"v":674.8},{"brace":"Lumi","t":8.0259,"v":676.0},{"brace":"Lumi","t":8.0559,"v":679.0},{"brace":"Lumi","t":8.0759,"v":684.1},{"brace":"Lumi","t":8.0959,"v":679.0},{"brace":"Lumi","t":8.1259,"v":676.0},{"brace":"Lumi","t":8.1759,"v":674.8},{"brace":"Lumi","t":9.0592,"v":674.8},{"brace":"Lumi","t":9.1192,"v":674.0},{"brace":"Lumi","t":9.1527,"v":671.5},{"brace":"Lumi","t":9.1704,"v":667.1},{"brace":"Lumi","t":9.1792,"v":662.4}
],
"notes": [
{"label":"LER study","t":1.7917,"v":707.4},{"label":"HER study","t":4.755,"v":707.4},{"label":"Luminosity study","t":8.07,"v":707.4}
]
},
"layer": [
{
 "data": {"name": "bands"},
 "transform": [{"filter": "false"}],
 "mark": {"type": "point", "filled": true, "opacity": 1},
 "encoding": {
  "color": {"field": "series", "type": "nominal",
   "scale": {"domain": ["Continuous Injection","Storage","LER Current","HER Current","σy LER","σy HER","nb LER","nb HER","Luminosity"], "range": ["#b3ffff","#ffb3ff","#ff0000","#0000ff","#32cd32","#006400","#808080","#000000","#ffd700"]},
   "legend": {"orient": "none", "legendX": 14, "legendY": 8, "columns": 5, "title": null, "symbolSize": 400, "symbolOffset": 10, "symbolStrokeWidth": 4, "labelFontSize": 20, "labelOffset": 23, "columnPadding": 34, "rowPadding": 4, "padding": 8, "labelLimit": 400, "fillColor": "rgba(255,255,255,0.85)", "strokeColor": "#cccccc", "cornerRadius": 5}},
  "stroke": {"field": "series", "type": "nominal",
   "scale": {"domain": ["Continuous Injection","Storage","LER Current","HER Current","σy LER","σy HER","nb LER","nb HER","Luminosity"], "range": ["#a3f8f8","#f9a3f9","#ff0000","#0000ff","#32cd32","#006400","#808080","#000000","#ffd700"]},
   "legend": {"orient": "none", "legendX": 14, "legendY": 8, "columns": 5, "title": null, "symbolSize": 400, "symbolOffset": 10, "symbolStrokeWidth": 4, "labelFontSize": 20, "labelOffset": 23, "columnPadding": 34, "rowPadding": 4, "padding": 8, "labelLimit": 400, "fillColor": "rgba(255,255,255,0.85)", "strokeColor": "#cccccc", "cornerRadius": 5}},
  "shape": {"field": "series", "type": "nominal",
   "scale": {"domain": ["Continuous Injection","Storage","LER Current","HER Current","σy LER","σy HER","nb LER","nb HER","Luminosity"], "range": ["M-1.8,-0.5L1.8,-0.5L1.8,0.5L-1.8,0.5Z","M-1.8,-0.5L1.8,-0.5L1.8,0.5L-1.8,0.5Z","M-2,0L2,0","M-2,0L2,0","M0.4,0A0.4,0.4,0,1,1,-0.4,0A0.4,0.4,0,1,1,0.4,0Z","M0.4,0A0.4,0.4,0,1,1,-0.4,0A0.4,0.4,0,1,1,0.4,0Z","M-2,0L2,0","M-2,0L2,0","M0.4,0A0.4,0.4,0,1,1,-0.4,0A0.4,0.4,0,1,1,0.4,0Z"]},
   "legend": {"orient": "none", "legendX": 14, "legendY": 8, "columns": 5, "title": null, "symbolSize": 400, "symbolOffset": 10, "symbolStrokeWidth": 4, "labelFontSize": 20, "labelOffset": 23, "columnPadding": 34, "rowPadding": 4, "padding": 8, "labelLimit": 400, "fillColor": "rgba(255,255,255,0.85)", "strokeColor": "#cccccc", "cornerRadius": 5}}
 }
},
{
 "data": {"name": "bands"},
 "mark": {"type": "rect", "opacity": 0.3},
 "encoding": {
  "x": {"field": "start", "type": "quantitative", "scale": {"domain": [0, 9.444], "nice": false, "zero": false},
   "axis": {"title": "Elapsed Time [h]", "values": [0,0.2,0.4,0.6,0.8,1,1.2,1.4,1.6,1.8,2,2.2,2.4,2.6,2.8,3,3.2,3.4,3.6,3.8,4,4.2,4.4,4.6,4.8,5,5.2,5.4,5.6,5.8,6,6.2,6.4,6.6,6.8,7,7.2,7.4,7.6,7.8,8,8.2,8.4,8.6,8.8,9,9.2,9.4],
    "tickCount": 200,
    "labelExpr": "abs(datum.value - round(datum.value)) < 0.01 ? format(round(datum.value), 'd') : ''",
    "labelOverlap": false,
    "tickSize": {"condition": {"test": "abs(datum.value - round(datum.value)) < 0.01", "value": 5}, "value": 3},
    "grid": true,
    "gridOpacity": {"condition": {"test": "abs(datum.value - round(datum.value)) < 0.01", "value": 1}, "value": 0},
    "domain": false, "labelPadding": 3, "titlePadding": 4}},
  "x2": {"field": "end"},
  "fill": {"field": "series", "type": "nominal", "scale": {"domain": ["Continuous Injection","Storage"], "range": ["#00ffff","#ff00ff"]}, "legend": null}
 }
},
{
 "layer": [
  {"data": {"name": "sig"}, "transform": [{"filter": "datum.series === 'σy LER'"}],
   "mark": {"type": "area", "opacity": 1},
   "encoding": {
    "x": {"field": "t", "type": "quantitative", "scale": {"domain": [0, 9.444], "nice": false, "zero": false}},
    "y": {"field": "lo", "type": "quantitative", "scale": {"domain": [0, 325], "nice": false},
     "axis": {"orient": "right", "title": "σy [μm],  Luminosity [10³²cm⁻²s⁻¹]", "titleFontSize": 25, "titleY": 225,
      "values": [0,10,20,30,40,50,60,70,80,90,100,110,120,130,140,150,160,170,180,190,200,210,220,230,240,250,260,270,280,290,300,310,320],
      "tickCount": 200,
      "labelExpr": "datum.value % 50 === 0 ? format(datum.value, 'd') : ''",
      "labelOverlap": false,
      "tickSize": {"condition": {"test": "datum.value % 50 === 0", "value": 5}, "value": 3},
      "grid": false, "domain": false, "labelPadding": 3, "titlePadding": 17}},
    "y2": {"field": "hi"},
    "detail": {"field": "seg", "type": "nominal"},
    "color": {"field": "series", "type": "nominal", "scale": {"domain": ["Continuous Injection","Storage","LER Current","HER Current","σy LER","σy HER","nb LER","nb HER","Luminosity"], "range": ["#b3ffff","#ffb3ff","#ff0000","#0000ff","#32cd32","#006400","#808080","#000000","#ffd700"]}, "legend": null}
   }},
  {"data": {"name": "sig"}, "transform": [{"filter": "datum.series === 'σy HER'"}],
   "mark": {"type": "area", "opacity": 1},
   "encoding": {
    "x": {"field": "t", "type": "quantitative", "scale": {"domain": [0, 9.444], "nice": false, "zero": false}},
    "y": {"field": "lo", "type": "quantitative", "scale": {"domain": [0, 325], "nice": false}},
    "y2": {"field": "hi"},
    "detail": {"field": "seg", "type": "nominal"},
    "color": {"field": "series", "type": "nominal", "scale": {"domain": ["Continuous Injection","Storage","LER Current","HER Current","σy LER","σy HER","nb LER","nb HER","Luminosity"], "range": ["#b3ffff","#ffb3ff","#ff0000","#0000ff","#32cd32","#006400","#808080","#000000","#ffd700"]}, "legend": null}
   }},
  {"data": {"name": "sig"}, "transform": [{"filter": "datum.series === 'Luminosity'"}],
   "mark": {"type": "area", "opacity": 1},
   "encoding": {
    "x": {"field": "t", "type": "quantitative", "scale": {"domain": [0, 9.444], "nice": false, "zero": false}},
    "y": {"field": "lo", "type": "quantitative", "scale": {"domain": [0, 325], "nice": false}},
    "y2": {"field": "hi"},
    "detail": {"field": "seg", "type": "nominal"},
    "color": {"field": "series", "type": "nominal", "scale": {"domain": ["Continuous Injection","Storage","LER Current","HER Current","σy LER","σy HER","nb LER","nb HER","Luminosity"], "range": ["#b3ffff","#ffb3ff","#ff0000","#0000ff","#32cd32","#006400","#808080","#000000","#ffd700"]}, "legend": null}
   }},
  {"data": {"name": "pts"},
   "mark": {"type": "point", "filled": true, "size": 9, "opacity": 1},
   "encoding": {
    "x": {"field": "t", "type": "quantitative", "scale": {"domain": [0, 9.444], "nice": false, "zero": false}},
    "y": {"field": "v", "type": "quantitative", "scale": {"domain": [0, 325], "nice": false}},
    "color": {"field": "series", "type": "nominal", "scale": {"domain": ["Continuous Injection","Storage","LER Current","HER Current","σy LER","σy HER","nb LER","nb HER","Luminosity"], "range": ["#b3ffff","#ffb3ff","#ff0000","#0000ff","#32cd32","#006400","#808080","#000000","#ffd700"]}, "legend": null}
   }}
 ]
},
{
 "layer": [
  {"data": {"name": "cur"}, "transform": [{"filter": "datum.series === 'LER Current'"}],
   "mark": {"type": "line", "strokeWidth": 4, "strokeJoin": "round"},
   "encoding": {
    "x": {"field": "t", "type": "quantitative", "scale": {"domain": [0, 9.444], "nice": false, "zero": false}},
    "y": {"field": "v", "type": "quantitative", "scale": {"domain": [0, 650], "nice": false},
     "axis": {"orient": "left", "title": "Beam Current [mA]",
      "values": [0,20,40,60,80,100,120,140,160,180,200,220,240,260,280,300,320,340,360,380,400,420,440,460,480,500,520,540,560,580,600,620,640],
      "tickCount": 200,
      "labelExpr": "datum.value % 100 === 0 ? format(datum.value, 'd') : ''",
      "labelOverlap": false,
      "tickSize": {"condition": {"test": "datum.value % 100 === 0", "value": 5}, "value": 3},
      "grid": true,
      "gridOpacity": {"condition": {"test": "datum.value % 100 === 0", "value": 1}, "value": 0},
      "domain": false, "labelPadding": 3, "titlePadding": 8}},
    "color": {"field": "series", "type": "nominal", "scale": {"domain": ["Continuous Injection","Storage","LER Current","HER Current","σy LER","σy HER","nb LER","nb HER","Luminosity"], "range": ["#b3ffff","#ffb3ff","#ff0000","#0000ff","#32cd32","#006400","#808080","#000000","#ffd700"]}, "legend": null}
   }},
  {"data": {"name": "cur"}, "transform": [{"filter": "datum.series === 'HER Current'"}],
   "mark": {"type": "line", "strokeWidth": 4, "strokeJoin": "round"},
   "encoding": {
    "x": {"field": "t", "type": "quantitative", "scale": {"domain": [0, 9.444], "nice": false, "zero": false}},
    "y": {"field": "v", "type": "quantitative", "scale": {"domain": [0, 650], "nice": false}},
    "color": {"field": "series", "type": "nominal", "scale": {"domain": ["Continuous Injection","Storage","LER Current","HER Current","σy LER","σy HER","nb LER","nb HER","Luminosity"], "range": ["#b3ffff","#ffb3ff","#ff0000","#0000ff","#32cd32","#006400","#808080","#000000","#ffd700"]}, "legend": null}
   }},
  {"data": {"name": "brace"}, "transform": [{"filter": "datum.brace === 'LER'"}],
   "mark": {"type": "line", "strokeWidth": 3, "interpolate": "monotone", "color": "#ff0000"},
   "encoding": {
    "x": {"field": "t", "type": "quantitative", "scale": {"domain": [0, 9.444], "nice": false, "zero": false}},
    "y": {"field": "v", "type": "quantitative", "scale": {"domain": [0, 650], "nice": false}}
   }},
  {"data": {"name": "brace"}, "transform": [{"filter": "datum.brace === 'HER'"}],
   "mark": {"type": "line", "strokeWidth": 3, "interpolate": "monotone", "color": "#0000ff"},
   "encoding": {
    "x": {"field": "t", "type": "quantitative", "scale": {"domain": [0, 9.444], "nice": false, "zero": false}},
    "y": {"field": "v", "type": "quantitative", "scale": {"domain": [0, 650], "nice": false}}
   }},
  {"data": {"name": "brace"}, "transform": [{"filter": "datum.brace === 'Lumi'"}],
   "mark": {"type": "line", "strokeWidth": 3, "interpolate": "monotone", "color": "#ffcc00"},
   "encoding": {
    "x": {"field": "t", "type": "quantitative", "scale": {"domain": [0, 9.444], "nice": false, "zero": false}},
    "y": {"field": "v", "type": "quantitative", "scale": {"domain": [0, 650], "nice": false}}
   }},
  {"data": {"name": "notes"}, "transform": [{"filter": "datum.label === 'LER study'"}],
   "mark": {"type": "text", "font": "Liberation Serif", "fontWeight": "bold", "fontSize": 21, "baseline": "alphabetic", "align": "center", "color": "#ff0000"},
   "encoding": {
    "x": {"field": "t", "type": "quantitative", "scale": {"domain": [0, 9.444], "nice": false, "zero": false}},
    "y": {"field": "v", "type": "quantitative", "scale": {"domain": [0, 650], "nice": false}},
    "text": {"field": "label"}
   }},
  {"data": {"name": "notes"}, "transform": [{"filter": "datum.label === 'HER study'"}],
   "mark": {"type": "text", "font": "Liberation Serif", "fontWeight": "bold", "fontSize": 21, "baseline": "alphabetic", "align": "center", "color": "#0000ff"},
   "encoding": {
    "x": {"field": "t", "type": "quantitative", "scale": {"domain": [0, 9.444], "nice": false, "zero": false}},
    "y": {"field": "v", "type": "quantitative", "scale": {"domain": [0, 650], "nice": false}},
    "text": {"field": "label"}
   }},
  {"data": {"name": "notes"}, "transform": [{"filter": "datum.label === 'Luminosity study'"}],
   "mark": {"type": "text", "font": "Liberation Serif", "fontWeight": "bold", "fontSize": 21, "baseline": "alphabetic", "align": "center", "color": "#ffcc00"},
   "encoding": {
    "x": {"field": "t", "type": "quantitative", "scale": {"domain": [0, 9.444], "nice": false, "zero": false}},
    "y": {"field": "v", "type": "quantitative", "scale": {"domain": [0, 650], "nice": false}},
    "text": {"field": "label"}
   }}
 ]
},
{
 "data": {"name": "nbd"},
 "mark": {"type": "line", "strokeWidth": 8, "strokeCap": "round", "clip": true},
 "encoding": {
  "x": {"field": "t", "type": "quantitative", "scale": {"domain": [0, 9.444], "nice": false, "zero": false}},
  "y": {"field": "v", "type": "quantitative", "scale": {"domain": [0, 3250], "nice": false},
   "axis": {"orient": "right", "offset": 121, "title": "nb",
    "values": [0,100,200,300,400,500,600,700,800,900,1000,1100,1200,1300,1400,1500,1600,1700,1800,1900,2000,2100,2200,2300,2400,2500,2600,2700,2800,2900,3000,3100,3200],
    "tickCount": 200,
    "labelExpr": "datum.value % 500 === 0 ? format(datum.value, 'd') : ''",
    "labelOverlap": false,
    "tickSize": {"condition": {"test": "datum.value % 500 === 0", "value": 5}, "value": 3},
    "grid": false, "domain": true, "labelPadding": 3, "titlePadding": 18}},
  "detail": {"field": "seg", "type": "nominal"},
  "color": {"field": "series", "type": "nominal", "scale": {"domain": ["Continuous Injection","Storage","LER Current","HER Current","σy LER","σy HER","nb LER","nb HER","Luminosity"], "range": ["#b3ffff","#ffb3ff","#ff0000","#0000ff","#32cd32","#006400","#808080","#000000","#ffd700"]}, "legend": null}
 }
}
],
"resolve": {"scale": {"y": "independent"}}
}
